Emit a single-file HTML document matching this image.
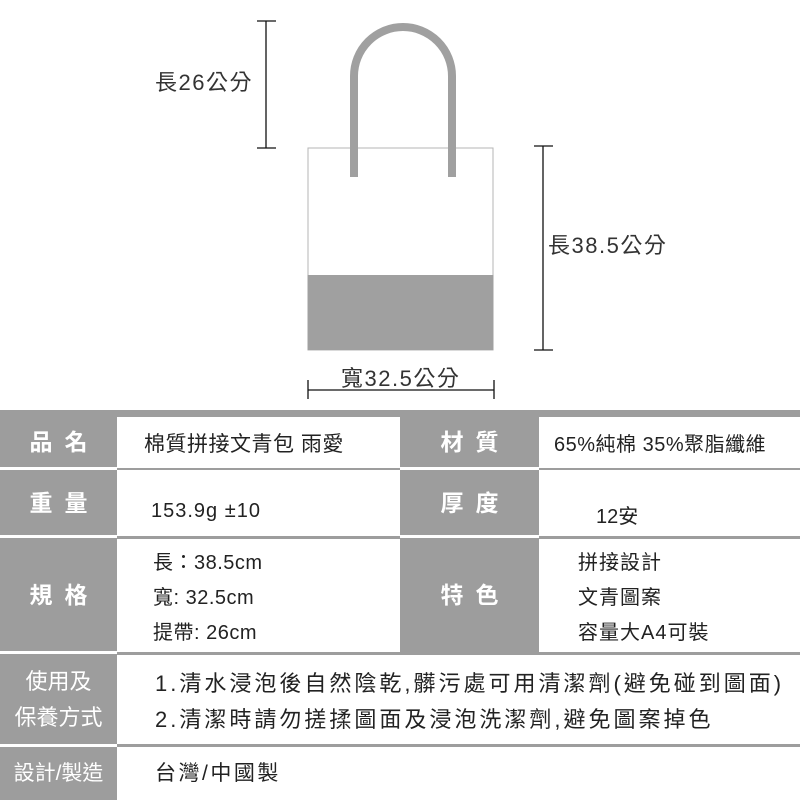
<!DOCTYPE html>
<html><head><meta charset="utf-8"><style>
*{margin:0;padding:0;box-sizing:border-box}
body{width:800px;height:800px;background:#fff;position:relative;overflow:hidden;font-family:"Liberation Sans","Noto Sans CJK TC",sans-serif;color:#222}
.a{position:absolute}
.g{position:absolute;background:#9d9d9d}
.lab{position:absolute;color:#fff;font-size:23px;text-align:center;display:flex;align-items:center;justify-content:center;line-height:36px;font-weight:bold}
.sp{letter-spacing:12px;padding-left:12px}
.v{position:absolute;font-size:20px;white-space:nowrap}
.d{position:absolute;font-size:22px;color:#333;white-space:nowrap;letter-spacing:1.5px}
</style></head><body>
<svg class="a" style="left:0;top:0" width="800" height="410">
<g stroke="#111" stroke-width="1.3" fill="none">
<line x1="266" y1="21" x2="266" y2="148"/><line x1="257" y1="21" x2="276" y2="21"/><line x1="257" y1="148" x2="276" y2="148"/>
<line x1="543" y1="146" x2="543" y2="350"/><line x1="534" y1="146" x2="553" y2="146"/><line x1="534" y1="350" x2="553" y2="350"/>
<line x1="308" y1="390" x2="494" y2="390"/><line x1="308" y1="380" x2="308" y2="399"/><line x1="494" y1="380" x2="494" y2="399"/>
</g>
<rect x="308" y="148" width="185" height="202" fill="#fff" stroke="#b5b5b5" stroke-width="1"/>
<rect x="307.5" y="275" width="186" height="75" fill="#a0a0a0"/>
<path d="M354 177 L354 76 A49 49 0 0 1 452 76 L452 177" fill="none" stroke="#a0a0a0" stroke-width="8"/>
</svg>
<div class="d" style="left:155px;top:65px">長26公分</div>
<div class="d" style="left:548px;top:228px">長38.5公分</div>
<div class="d" style="left:341px;top:361px">寬32.5公分</div>

<div class="g" style="left:0;top:410px;width:117px;height:390px"></div>
<div class="g" style="left:400px;top:410px;width:139px;height:243px"></div>
<div class="g" style="left:117px;top:410px;width:683px;height:7px"></div>
<div class="a" style="left:0;top:467px;width:117px;height:3px;background:#fff"></div>
<div class="a" style="left:400px;top:467px;width:139px;height:3px;background:#fff"></div>
<div class="g" style="left:117px;top:468px;width:283px;height:2px"></div>
<div class="g" style="left:539px;top:468px;width:261px;height:2px"></div>
<div class="a" style="left:0;top:535px;width:117px;height:3px;background:#fff"></div>
<div class="a" style="left:400px;top:535px;width:139px;height:3px;background:#fff"></div>
<div class="g" style="left:117px;top:536px;width:283px;height:3px"></div>
<div class="g" style="left:539px;top:536px;width:261px;height:3px"></div>
<div class="a" style="left:0;top:651px;width:117px;height:3px;background:#fff"></div>
<div class="g" style="left:117px;top:652px;width:683px;height:3px"></div>
<div class="a" style="left:0;top:744px;width:117px;height:3px;background:#fff"></div>
<div class="g" style="left:117px;top:744px;width:683px;height:3px"></div>

<div class="lab sp" style="left:0;top:417px;width:117px;height:50px">品名</div>
<div class="lab sp" style="left:400px;top:417px;width:139px;height:50px">材質</div>
<div class="lab sp" style="left:0;top:470px;width:117px;height:65px">重量</div>
<div class="lab sp" style="left:400px;top:470px;width:139px;height:65px">厚度</div>
<div class="lab sp" style="left:0;top:538px;width:117px;height:113px">規格</div>
<div class="lab sp" style="left:400px;top:538px;width:139px;height:113px">特色</div>
<div class="lab" style="left:0;top:655px;width:117px;height:89px;font-size:22px;font-weight:normal">使用及<br>保養方式</div>
<div class="lab" style="left:0;top:747px;width:117px;height:53px;font-size:21px;font-weight:normal">設計/製造</div>

<div class="v" style="left:144px;top:428px;font-size:21px;letter-spacing:0.5px">棉質拼接文青包 雨愛</div>
<div class="v" style="left:554px;top:428px;letter-spacing:0.5px">65%純棉 35%聚脂纖維</div>
<div class="v" style="left:151px;top:500px;letter-spacing:1px">153.9g ±10</div>
<div class="v" style="left:596px;top:500px">12安</div>
<div class="v" style="left:153px;top:546px;line-height:35px;letter-spacing:0.5px">長：38.5cm<br>寬: 32.5cm<br>提帶: 26cm</div>
<div class="v" style="left:578px;top:546px;line-height:35px;letter-spacing:1px">拼接設計<br>文青圖案<br>容量大A4可裝</div>
<div class="v" style="left:155px;top:666px;font-size:22px;line-height:36px;letter-spacing:3px">1.清水浸泡後自然陰乾,髒污處可用清潔劑(避免碰到圖面)<br>2.清潔時請勿搓揉圖面及浸泡洗潔劑,避免圖案掉色</div>
<div class="v" style="left:155px;top:757px;font-size:21px;letter-spacing:2.5px">台灣/中國製</div>
</body></html>
